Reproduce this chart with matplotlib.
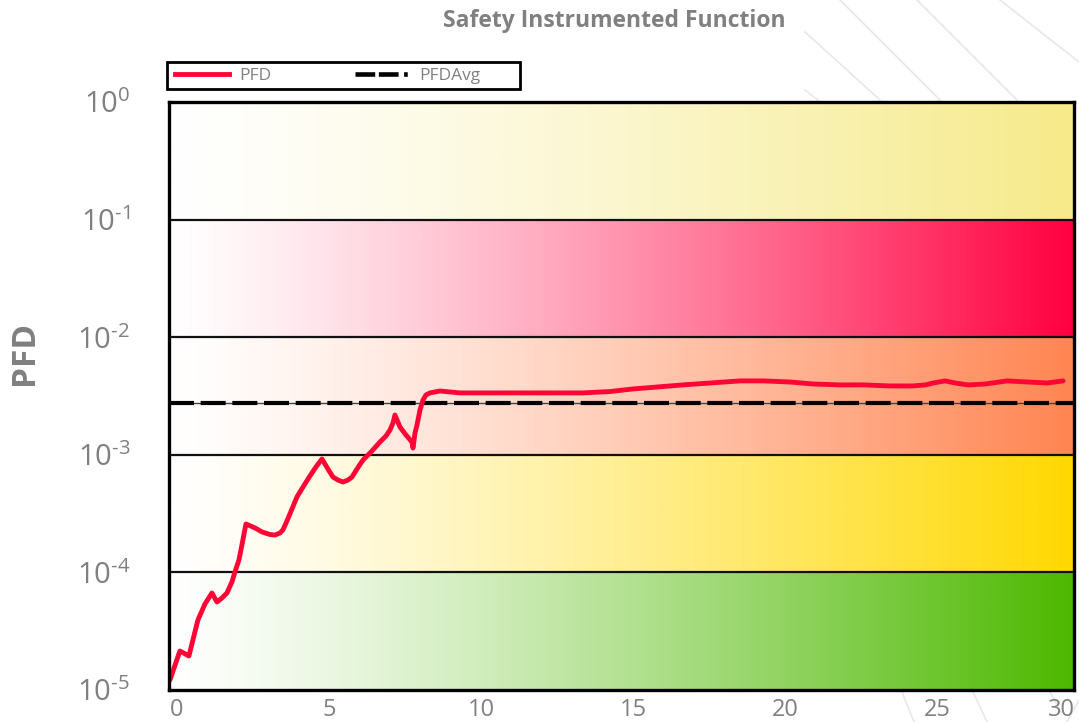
import numpy as np
import matplotlib
matplotlib.use('Agg')
import matplotlib.pyplot as plt
from matplotlib.lines import Line2D
from matplotlib.patches import Rectangle
from matplotlib.colors import to_rgb

plt.rcParams['font.family'] = ['Open Sans', 'DejaVu Sans']
plt.rcParams['mathtext.fontset'] = 'custom'
plt.rcParams['mathtext.rm'] = 'Open Sans'
plt.rcParams['mathtext.it'] = 'Open Sans:italic'
plt.rcParams['mathtext.bf'] = 'Open Sans:bold'

# ---------------- data ----------------
years = [-0.230, 0.099, 0.395, 0.526, 0.691, 0.921, 1.151, 1.316, 1.480, 1.645,
         1.809, 1.908, 2.039, 2.138, 2.270, 2.566, 2.796, 3.059, 3.224, 3.388,
         3.487, 3.618, 3.783, 3.947, 4.145, 4.375, 4.572, 4.770, 4.967, 5.132,
         5.296, 5.461, 5.625, 5.757, 5.921, 6.118, 6.414, 6.678, 6.875, 7.007,
         7.105, 7.171, 7.336, 7.533, 7.730, 7.763, 7.829, 7.895, 7.993, 8.092,
         8.191, 8.322, 8.651, 8.980, 9.309, 9.868, 11.61, 13.36, 14.24, 15.00,
         16.64, 18.52, 19.28, 20.16, 20.92, 21.81, 22.57, 23.45, 24.21, 24.61,
         24.87, 25.26, 25.59, 26.02, 26.58, 27.30, 27.96, 28.62, 29.14]
pfd = [1.216e-5, 2.147e-5, 1.946e-5, 2.66e-5, 3.94e-5, 5.38e-5, 6.68e-5, 5.60e-5,
       6.05e-5, 6.68e-5, 8.29e-5, 1.007e-4, 1.274e-4, 1.71e-4, 2.58e-4, 2.39e-4,
       2.21e-4, 2.10e-4, 2.08e-4, 2.16e-4, 2.30e-4, 2.74e-4, 3.46e-4, 4.38e-4,
       5.32e-4, 6.61e-4, 7.88e-4, 9.21e-4, 7.57e-4, 6.47e-4, 6.10e-4, 5.87e-4,
       6.10e-4, 6.47e-4, 7.57e-4, 9.03e-4, 1.077e-3, 1.285e-3, 1.445e-3, 1.626e-3,
       1.864e-3, 2.18e-3, 1.722e-3, 1.473e-3, 1.285e-3, 1.142e-3, 1.531e-3, 1.792e-3,
       2.40e-3, 2.92e-3, 3.23e-3, 3.36e-3, 3.49e-3, 3.42e-3, 3.36e-3, 3.36e-3,
       3.36e-3, 3.36e-3, 3.45e-3, 3.63e-3, 3.93e-3, 4.25e-3, 4.25e-3, 4.16e-3,
       4.00e-3, 3.93e-3, 3.93e-3, 3.85e-3, 3.85e-3, 3.93e-3, 4.08e-3, 4.25e-3,
       4.08e-3, 3.93e-3, 4.00e-3, 4.25e-3, 4.16e-3, 4.08e-3, 4.25e-3]
pfd_avg = 2.75e-3

x_ticks = [0, 5, 10, 15, 20, 25, 29.1]
x_tick_labels = ['0', '5', '10', '15', '20', '25', '30']
y_ticks = [1e-5, 1e-4, 1e-3, 1e-2, 1e-1, 1e0]
y_tick_labels = [r'$\mathregular{10^{\text{-5}}}$', r'$\mathregular{10^{\text{-4}}}$',
                 r'$\mathregular{10^{\text{-3}}}$', r'$\mathregular{10^{\text{-2}}}$',
                 r'$\mathregular{10^{\text{-1}}}$', r'$\mathregular{10^{0}}$']
band_edges = [1e-5, 1e-4, 1e-3, 1e-2, 1e-1, 1e0]
band_colors = ['#4db800', '#ffd800', '#ff8552', '#ff0040', '#f6ea8a']

title = 'Safety Instrumented Function'
y_label = 'PFD'
series_labels = ['PFD', 'PFDAvg']

GRAY = '#808080'
XMIN, XMAX = -0.26, 29.5

# ---------------- figure ----------------
fig = plt.figure(figsize=(10.79, 7.22), dpi=100)
fig.patch.set_facecolor('white')

W, H = 1079.0, 722.0
deco = [((805, 32), (880, 100)), ((840, 0), (940, 100)), ((917, 0), (1017, 100)),
        ((1000, 0), (1079, 62)), ((805, 90), (818, 100)),
        ((902, 692), (914, 722)), ((973, 692), (987, 722)), ((1050, 692), (1061, 712)),
        ((1067, 722), (1079, 700))]
for (x0, y0), (x1, y1) in deco:
    fig.add_artist(Line2D([x0 / W, x1 / W], [1 - y0 / H, 1 - y1 / H],
                          transform=fig.transFigure, color='#e6e8ec', lw=1.2, zorder=0))

ax = fig.add_axes([169 / W, 1 - 690 / H, (1074 - 169) / W, 588 / H])
ax.set_yscale('log')

# gradient bands
t = np.linspace(0, 1, 600)
w = t ** 1.25
for lo, hi, c in zip(band_edges[:-1], band_edges[1:], band_colors):
    rgb = np.array(to_rgb(c))
    img = (1 - w)[:, None] + w[:, None] * rgb[None, :]
    ax.imshow(img[None, :, :], extent=(XMIN, XMAX, lo, hi), aspect='auto',
              interpolation='bilinear', zorder=0)
ax.set_xlim(XMIN, XMAX)
ax.set_ylim(band_edges[0], band_edges[-1])

for e in band_edges[1:-1]:
    ax.axhline(e, color='#111111', lw=1.6, zorder=1)

# PFDAvg line: thin under-line plus thick dashes
ax.axhline(pfd_avg, color='#444444', lw=1.0, zorder=2)
ax.axhline(pfd_avg, color='black', lw=3.0, dashes=(6.0, 1.6), zorder=3)

# PFD curve
ax.plot(years, pfd, color='#ff0535', lw=3.5, solid_joinstyle='round',
        solid_capstyle='round', zorder=4)

for s in ax.spines.values():
    s.set_linewidth(2.4)
    s.set_color('black')
    s.set_zorder(5)

ax.set_xticks(x_ticks)
ax.set_xticklabels(x_tick_labels)
ax.set_yticks(y_ticks)
ax.set_yticklabels(y_tick_labels)
ax.minorticks_off()
ax.tick_params(axis='x', length=0, pad=6, labelsize=17, labelcolor=GRAY)
ax.tick_params(axis='y', length=0, pad=28, labelsize=21, labelcolor=GRAY)

fig.text(25 / W, 1 - 353 / H, y_label, rotation=90, ha='center', va='center',
         fontsize=24, fontweight='bold', color=GRAY)
fig.text(614 / W, 1 - 21 / H, title, ha='center', va='center',
         fontsize=16.5, fontweight='bold', color=GRAY)

# legend: frame drawn as a rectangle, entries placed by the legend
ax_w, ax_h = 905.0, 588.0
frame = Rectangle(((167 - 169) / ax_w, (690 - 89) / ax_h), 353 / ax_w, 27 / ax_h,
                  transform=ax.transAxes, fill=True, facecolor='white',
                  edgecolor='black', lw=2.0, clip_on=False, zorder=6)
ax.add_patch(frame)
h1 = Line2D([], [], color='#ff0535', lw=3.5)
h2 = Line2D([], [], color='black', lw=3.3, dashes=(4.3, 0.8, 4.3, 1.2, 0.8, 20))
leg = ax.legend([h1, h2], series_labels, ncol=2, loc='center left',
                bbox_to_anchor=((175 - 169) / ax_w, (690 - 75.5) / ax_h),
                borderaxespad=0, frameon=False, fontsize=12.5,
                handlelength=3.1, handletextpad=0.6, borderpad=0,
                columnspacing=4.8, labelcolor=GRAY)
leg.set_zorder(7)

fig.savefig('out.png', dpi=100, facecolor='white')
